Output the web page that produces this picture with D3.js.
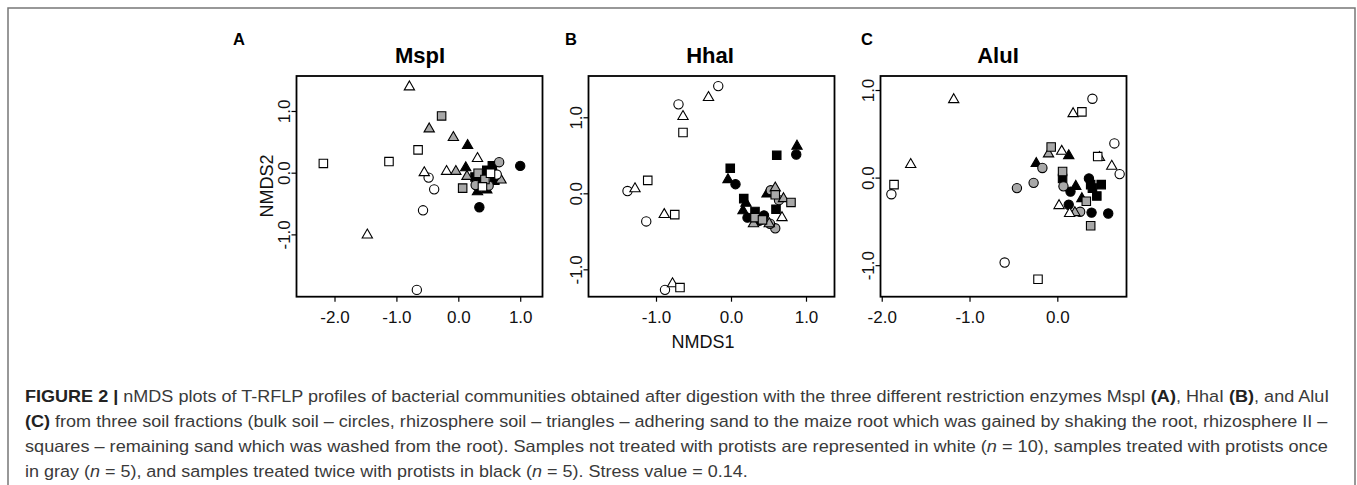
<!DOCTYPE html>
<html><head><meta charset="utf-8">
<script src="https://cdn.jsdelivr.net/npm/d3@7"></script>
<style>body{margin:0;background:#fff}svg{display:block}</style>
</head><body>
<svg id="chart" width="1357" height="485"></svg>
<script>
// ---------- data ----------
const enzymes = ["MspI", "HhaI", "AluI"];
const panelLetters = ["A", "B", "C"];
const fractions = ["bulk soil", "rhizosphere soil", "rhizosphere II"];   // circle, triangle, square
const treatments = ["no protists", "protists once", "protists twice"];   // white, gray, black

const mspI_xDomain = [-2.614, 1.36];
const mspI_yDomain = [-2.01, 1.567];
const mspI_xTicks = [-2, -1, 0, 1];
const mspI_yTicks = [-1, 0, 1];

const hhaI_xDomain = [-1.9, 1.38];
const hhaI_yDomain = [-1.36, 1.543];
const hhaI_xTicks = [-1, 0, 1];
const hhaI_yTicks = [-1, 0, 1];

const aluI_xDomain = [-2.014, 0.788];
const aluI_yDomain = [-1.36, 1.16];
const aluI_xTicks = [-2, -1, 0];
const aluI_yTicks = [-1, 0, 1];

// [NMDS1, NMDS2, fraction index, treatment index]
const mspI_points = [
  [-0.48,-0.08,0,0],[-0.39,-0.27,0,0],[-0.57,-0.61,0,0],[-0.67,-1.90,0,0],[0.62,-0.03,0,0],
  [-0.79,1.39,1,0],[0.31,0.23,1,0],[-0.55,0.00,1,0],[-0.19,0.02,1,0],[-1.47,-1.01,1,0],
  [-0.65,0.37,2,0],[-2.18,0.15,2,0],[-1.12,0.18,2,0],[0.52,-0.01,2,0],[0.39,-0.23,2,0],
  [0.66,0.17,0,1],[0.28,-0.20,0,1],[0.49,-0.21,0,1],
  [-0.47,0.71,1,1],[-0.08,0.57,1,1],[-0.04,0.02,1,1],[0.14,-0.06,1,1],[0.69,-0.12,1,1],
  [-0.27,0.92,2,1],[0.07,-0.25,2,1],[0.32,-0.01,2,1],[0.43,-0.11,2,1],
  [1.00,0.11,0,2],[0.34,-0.56,0,2],
  [0.15,0.44,1,2],[0.12,0.08,1,2],[0.31,-0.31,1,2],[0.46,-0.28,1,2],
  [0.55,0.11,2,2],[0.46,0.04,2,2],[0.27,-0.07,2,2],[0.59,-0.12,2,2],[0.36,-0.15,2,2]
];
const hhaI_points = [
  [-0.17,1.41,0,0],[-0.70,1.17,0,0],[-1.38,0.03,0,0],[-1.13,-0.37,0,0],[-0.88,-1.27,0,0],
  [-0.30,1.26,1,0],[-0.64,1.01,1,0],[-1.28,0.06,1,0],[-0.89,-0.28,1,0],[-0.78,-1.19,1,0],[0.68,-0.32,1,0],
  [-0.64,0.80,2,0],[-1.11,0.17,2,0],[-0.75,-0.28,2,0],[-0.68,-1.24,2,0],
  [0.53,0.04,0,1],[0.64,-0.09,0,1],[0.59,-0.46,0,1],[0.52,-0.40,0,1],
  [0.59,0.07,1,1],[0.70,-0.07,1,1],[0.30,-0.40,1,1],[0.51,-0.40,1,1],
  [0.59,-0.02,2,1],[0.80,-0.12,2,1],[0.32,-0.32,2,1],[0.42,-0.35,2,1],
  [0.87,0.51,0,2],[0.06,0.12,0,2],[0.22,-0.32,0,2],[0.44,-0.29,0,2],[0.38,-0.36,0,2],
  [0.88,0.62,1,2],[-0.04,0.18,1,2],[0.48,-0.01,1,2],[0.20,-0.13,1,2],[0.16,-0.23,1,2],
  [0.61,0.50,2,2],[-0.01,0.33,2,2],[0.17,-0.07,2,2],[0.32,-0.24,2,2],[0.60,-0.21,2,2]
];
const aluI_points = [
  [0.40,0.90,0,0],[0.65,0.39,0,0],[0.71,0.04,0,0],[-1.89,-0.19,0,0],[-0.60,-0.97,0,0],
  [-1.18,0.89,1,0],[0.18,0.73,1,0],[0.48,0.23,1,0],[0.62,0.13,1,0],[-1.67,0.15,1,0],[0.02,-0.32,1,0],[0.14,-0.41,1,0],[0.05,0.30,1,0],
  [0.28,0.75,2,0],[0.46,0.24,2,0],[-1.86,-0.08,2,0],[-0.22,-1.16,2,0],
  [-0.17,0.11,0,1],[0.07,-0.10,0,1],[-0.46,-0.12,0,1],[-0.27,-0.06,0,1],[0.26,-0.39,0,1],
  [-0.10,0.27,1,1],[0.20,-0.40,1,1],
  [-0.07,0.35,2,1],[0.06,0.07,2,1],[0.33,-0.27,2,1],[0.38,-0.55,2,1],
  [0.36,-0.01,0,2],[0.15,-0.16,0,2],[0.13,-0.31,0,2],[0.39,-0.40,0,2],[0.58,-0.41,0,2],
  [-0.24,0.16,1,2],[0.13,0.25,1,2],[0.21,-0.10,1,2],[0.28,-0.24,1,2],
  [0.06,-0.01,2,2],[0.40,-0.12,2,2],[0.50,-0.08,2,2],[0.45,-0.21,2,2],[0.38,-0.08,2,2]
];

const xAxisTitle = "NMDS1";
const yAxisTitle = "NMDS2";

// ---------- drawing ----------
const svg = d3.select("#chart");
const FONT = "'Liberation Sans', Arial, Helvetica, sans-serif";

// outer frame
svg.append("path").attr("d", "M8,490 V8 H1355 V490")
  .attr("fill", "none").attr("stroke", "#777").attr("stroke-width", 1.5);

const panels = [
  {pts: mspI_points, xd: mspI_xDomain, yd: mspI_yDomain, xt: mspI_xTicks, yt: mspI_yTicks},
  {pts: hhaI_points, xd: hhaI_xDomain, yd: hhaI_yDomain, xt: hhaI_xTicks, yt: hhaI_yTicks},
  {pts: aluI_points, xd: aluI_xDomain, yd: aluI_yDomain, xt: aluI_xTicks, yt: aluI_yTicks}
];
const boxLeft = [296.5, 588.5, 880.5];
const titleX = [420, 710, 998];
const letterX = [233, 565, 861];
const boxW = 246, boxTop = 76, boxH = 220.7;

const fillColor = ["#ffffff", "#a8a8a8", "#000000"];
const shapeType = [d3.symbolCircle, d3.symbolTriangle, d3.symbolSquare];
const shapeSize = [68, 46, 72];
const fmt = v => d3.format(".1f")(v).replace("\u2212", "-");

panels.forEach((p, i) => {
  const g = svg.append("g").attr("transform", `translate(${boxLeft[i]},${boxTop})`);
  const x = d3.scaleLinear().domain(p.xd).range([0, boxW]);
  const y = d3.scaleLinear().domain(p.yd).range([boxH, 0]);

  const xa = g.append("g").attr("transform", `translate(0,${boxH})`)
    .call(d3.axisBottom(x).tickValues(p.xt).tickFormat(fmt).tickSize(5).tickSizeOuter(0).tickPadding(9));
  const ya = g.append("g")
    .call(d3.axisLeft(y).tickValues(p.yt).tickFormat(fmt).tickSize(5).tickSizeOuter(0));
  [xa, ya].forEach(a => {
    a.select(".domain").remove();
    a.selectAll("line").attr("stroke", "#000").attr("stroke-width", 1.2);
    a.selectAll("text").attr("font-family", FONT).attr("font-size", 17).attr("fill", "#111");
  });
  ya.selectAll("text")
    .attr("transform", "rotate(-90)").attr("x", 0).attr("y", -7).attr("dy", 0)
    .attr("text-anchor", "middle");

  const order = [2, 1, 0];
  const sorted = order.flatMap(t => p.pts.filter(d => d[3] === t));
  g.append("g").selectAll("path").data(sorted).join("path")
    .attr("transform", d => `translate(${x(d[0])},${y(d[1])})`)
    .attr("d", d => d3.symbol().type(shapeType[d[2]]).size(shapeSize[d[2]])())
    .attr("fill", d => fillColor[d[3]])
    .attr("stroke", "#000").attr("stroke-width", 1.1);

  g.append("rect").attr("x", 0).attr("y", 0).attr("width", boxW).attr("height", boxH)
    .attr("fill", "none").attr("stroke", "#000").attr("stroke-width", 1.8);

  svg.append("text").attr("x", titleX[i]).attr("y", 62.5).attr("text-anchor", "middle")
    .attr("font-family", FONT).attr("font-weight", "bold").attr("font-size", 22).attr("fill", "#000")
    .text(enzymes[i]);
  svg.append("text").attr("x", letterX[i]).attr("y", 44.5)
    .attr("font-family", FONT).attr("font-weight", "bold").attr("font-size", 16.5).attr("fill", "#000")
    .text(panelLetters[i]);
});

svg.append("text").attr("x", 703).attr("y", 341.7).attr("dy", "0.35em").attr("text-anchor", "middle")
  .attr("font-family", FONT).attr("font-size", 18).attr("fill", "#111").text(xAxisTitle);
svg.append("text").attr("transform", "translate(266.7,186) rotate(-90)").attr("dy", "0.35em")
  .attr("text-anchor", "middle").attr("font-family", FONT).attr("font-size", 18).attr("fill", "#111")
  .text(yAxisTitle);

// ---------- caption ----------
const captionLines = [
  [["FIGURE 2 | ", "b"], ["nMDS plots of T-RFLP profiles of bacterial communities obtained after digestion with the three different restriction enzymes MspI ", ""], ["(A)", "b"], [", HhaI ", ""], ["(B)", "b"], [", and AluI", ""]],
  [["(C)", "b"], [" from three soil fractions (bulk soil \u2013 circles, rhizosphere soil \u2013 triangles \u2013 adhering sand to the maize root which was gained by shaking the root, rhizosphere II \u2013", ""]],
  [["squares \u2013 remaining sand which was washed from the root). Samples not treated with protists are represented in white (", ""], ["n", "i"], [" = 10), samples treated with protists once", ""]],
  [["in gray (", ""], ["n", "i"], [" = 5), and samples treated twice with protists in black (", ""], ["n", "i"], [" = 5). Stress value = 0.14.", ""]]
];
const captionEnd = [1330, 1328, 1328, 748];
const captionX = 25;
captionLines.forEach((line, k) => {
  const t = svg.append("text").attr("font-family", FONT).attr("font-size", 16.5).attr("fill", "#3a3a3a")
    .attr("xml:space", "preserve");
  line.forEach(([s, st]) => {
    const ts = t.append("tspan").text(s);
    if (st === "b") ts.attr("font-weight", "bold").attr("fill", "#222");
    if (st === "i") ts.attr("font-style", "italic");
  });
  const w = t.node().getComputedTextLength();
  const sx = (captionEnd[k] - captionX) / w;
  t.attr("transform", `translate(${captionX},${401.5 + k * 25}) scale(${sx},1)`);
});
</script>
</body></html>
